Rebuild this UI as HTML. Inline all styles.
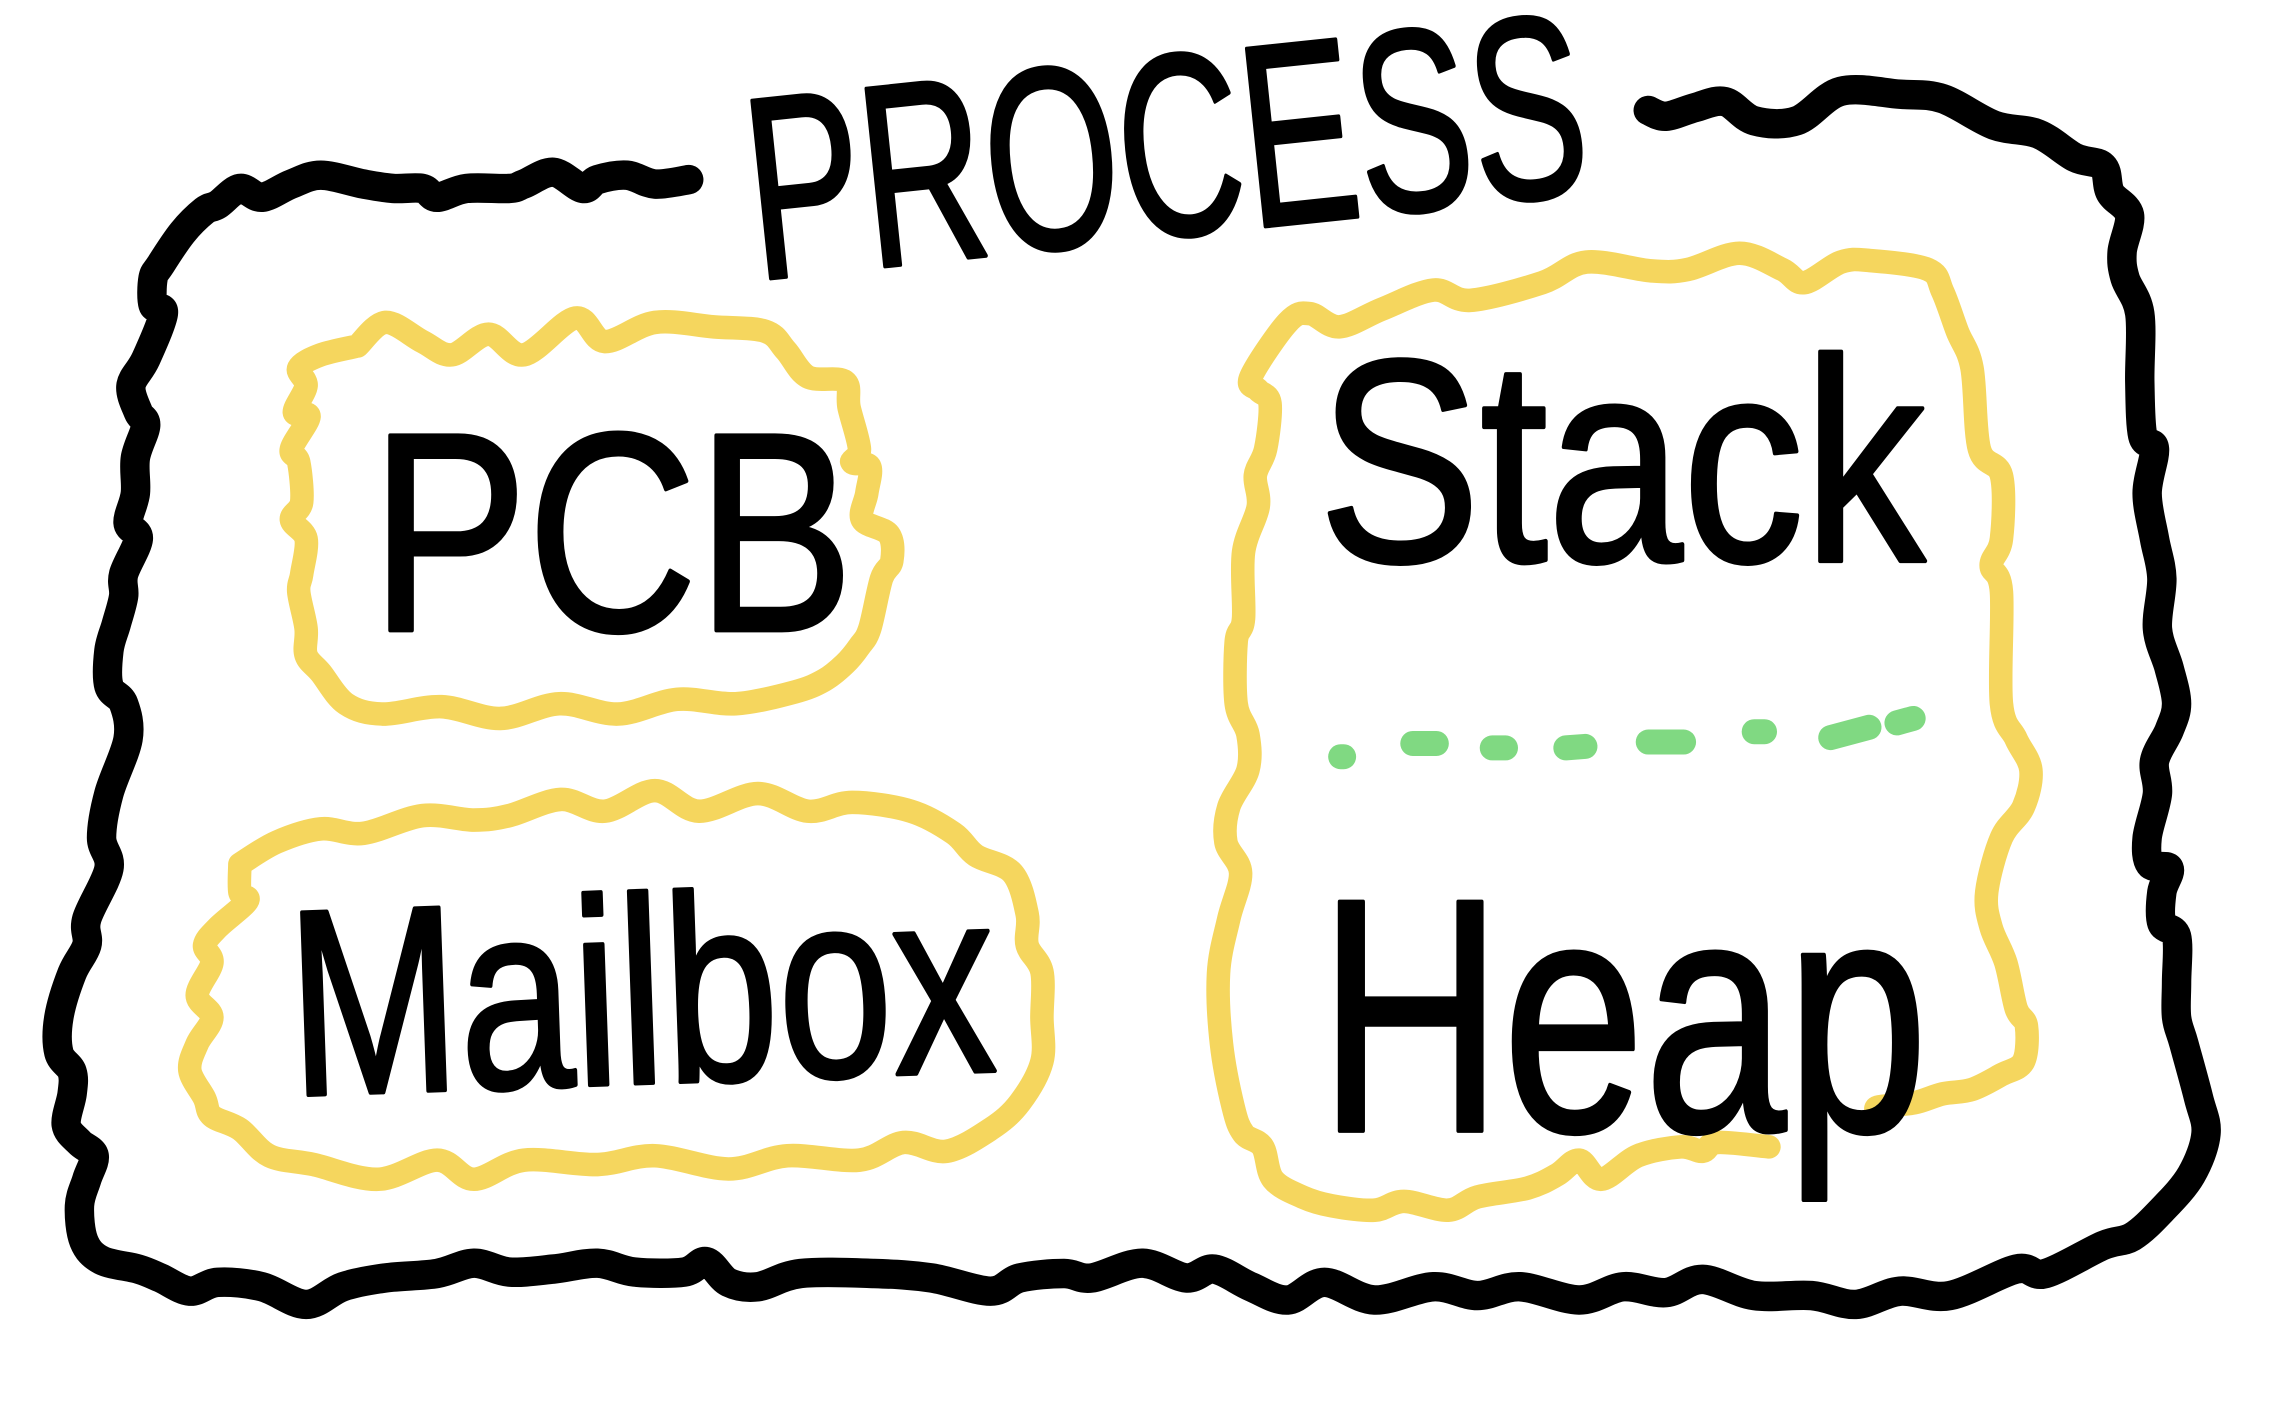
<!DOCTYPE html>
<html>
<head>
<meta charset="utf-8">
<style>
  html, body { margin:0; padding:0; background:#ffffff; }
  body { width:2284px; height:1406px; overflow:hidden; }
  svg { display:block; }
  text { font-family: "Liberation Sans", "DejaVu Sans", sans-serif; fill:#000; stroke:#000; stroke-width:3; stroke-linejoin:round; stroke-linecap:round; }
</style>
</head>
<body>
<svg id="d" width="2284" height="1406" viewBox="0 0 1552 955" preserveAspectRatio="none" xmlns="http://www.w3.org/2000/svg">
  <rect x="0" y="0" width="1552" height="955" fill="#ffffff"/>

  <!-- Outer black process border -->
  <polyline class="sm" fill="none" stroke="#000" stroke-width="20" stroke-linecap="round" stroke-linejoin="round"
    points="468,122 445,125 426,119 406,122 396,128 376,117 356,125 346,128 317,128 297,134 287,128 267,128 247,125 218,119 198,125 178,134 163,128 148,139 139,143 124,158 109,180 104,189 104,207 111,213 99,244 89,262 94,280 99,289 92,311 92,335 87,355 94,366 84,390 84,405 79,424 74,442 74,466 84,478 87,502 74,539 69,569 74,590 59,624 59,642 49,661 40,691 40,715 49,728 49,743 45,764 54,776 64,785 59,801 54,819 57,843 69,856 94,862 109,868 129,877 148,871 178,874 208,886 233,874 262,868 297,865 322,858 346,864 376,862 406,858 431,864 465,864 480,857 495,871 515,874 544,865 594,865 633,868 673,877 693,868 723,865 742,868 776,858 806,868 825,862 850,874 875,883 900,871 934,883 974,874 1004,880 1033,874 1073,883 1103,874 1132,878 1157,869 1192,880 1231,880 1261,886 1291,877 1325,880 1370,862 1390,865 1429,846 1449,840 1469,822 1489,798 1499,770 1494,746 1484,709 1479,691 1479,667 1479,636 1469,627 1469,606 1474,590 1461,587 1459,569 1466,539 1464,517 1474,496 1479,478 1474,454 1466,427 1469,393 1464,366 1459,335 1464,305 1456,296 1454,259 1454,213 1444,189 1442,171 1447,146 1434,131 1429,113 1410,107 1385,91 1355,85 1320,67 1291,64 1251,62 1221,82 1192,82 1172,69 1152,73 1132,79 1120,75"/>

  <!-- PCB yellow blob -->
  <polyline class="sm" fill="none" stroke="#F5D65E" stroke-width="16" stroke-linecap="round" stroke-linejoin="round"
    points="243,235 262,219 287,232 307,241 332,227 356,241 391,216 411,232 445,219 485,222 520,225 534,238 549,256 574,259 577,277 584,305 579,314 591,317 589,335 586,353 604,363 606,381 599,393 591,427 584,439 574,451 560,462 540,470 500,478 460,475 420,485 380,478 340,488 300,480 260,485 235,478 218,457 208,445 208,427 203,402 205,390 208,366 198,353 205,341 203,314 198,305 210,283 200,280 208,262 203,250 218,241 243,235"/>

  <!-- Mailbox yellow blob -->
  <polyline class="sm" fill="none" stroke="#F5D65E" stroke-width="16" stroke-linecap="round" stroke-linejoin="round"
    points="163,587 188,572 218,563 247,566 287,554 322,557 346,554 381,543 411,551 445,537 475,551 515,539 549,551 579,545 619,551 648,566 663,581 688,593 698,621 698,642 708,660 708,691 708,721 693,749 673,767 643,782 614,776 584,788 535,785 495,794 445,785 406,791 356,788 322,801 297,788 257,801 213,791 183,785 163,767 144,758 139,746 129,727 134,709 144,691 134,676 144,654 139,642 148,630 168,612 163,606 163,587"/>

  <!-- Stack/Heap yellow blob -->
  <polyline class="sm" fill="none" stroke="#F5D65E" stroke-width="16" stroke-linecap="round" stroke-linejoin="round"
    points="1202,779 1167,776 1157,782 1142,779 1113,785 1088,801 1073,788 1058,798 1038,807 1004,813 984,822 954,816 934,822 905,819 885,813 865,801 858,779 845,770 838,752 830,709 828,661 835,624 843,593 833,572 835,548 848,523 848,499 840,478 840,436 845,420 845,375 855,344 853,323 860,305 863,274 855,265 850,256 875,219 890,213 910,222 939,210 974,197 999,204 1048,192 1078,178 1122,184 1147,183 1182,172 1211,183 1226,192 1251,178 1271,177 1310,183 1320,198 1330,225 1340,250 1345,305 1360,323 1360,366 1353,384 1360,402 1360,478 1370,502 1380,523 1375,548 1360,569 1350,606 1353,630 1363,654 1370,685 1377,697 1375,721 1360,730 1340,740 1320,743 1301,749 1276,752 1278,756"/>

  <!-- Green dashed separator -->
  <g stroke="#80D982" stroke-width="17" stroke-linecap="round" fill="none">
    <line x1="911" y1="514" x2="913" y2="514"/>
    <line x1="960" y1="505" x2="976" y2="505"/>
    <line x1="1014" y1="508" x2="1023" y2="508"/>
    <line x1="1064" y1="508" x2="1077" y2="507"/>
    <line x1="1120" y1="504" x2="1144" y2="504"/>
    <line x1="1192" y1="497" x2="1199" y2="497"/>
    <line x1="1244" y1="501" x2="1270" y2="494"/>
    <line x1="1289" y1="491" x2="1300" y2="488"/>
  </g>

  <!-- Labels -->
  <text x="514" y="190" font-size="176" textLength="572" lengthAdjust="spacingAndGlyphs" transform="rotate(-6 514 190)">PROCESS</text>
  <text x="252" y="428" font-size="192" textLength="328" lengthAdjust="spacingAndGlyphs">PCB</text>
  <text x="198" y="744" font-size="180" textLength="480" lengthAdjust="spacingAndGlyphs" transform="rotate(-2 198 744)">Mailbox</text>
  <text x="896" y="381" font-size="196" textLength="412" lengthAdjust="spacingAndGlyphs">Stack</text>
  <text x="896" y="768" font-size="226" textLength="414" lengthAdjust="spacingAndGlyphs">Heap</text>
</svg>
<script>
(function(){
  try {
    var NS = "http://www.w3.org/2000/svg";
    var pls = document.querySelectorAll("polyline.sm");
    for (var k = 0; k < pls.length; k++) {
      var pl = pls[k];
      var raw = pl.getAttribute("points").trim().split(/\s+/);
      var p = raw.map(function(s){ var a = s.split(","); return [parseFloat(a[0]), parseFloat(a[1])]; });
      if (p.length < 3) continue;
      var d = "M" + p[0][0] + "," + p[0][1];
      for (var i = 0; i < p.length - 1; i++) {
        var p0 = p[i - 1] || p[i], p1 = p[i], p2 = p[i + 1], p3 = p[i + 2] || p2;
        var c1x = p1[0] + (p2[0] - p0[0]) / 6, c1y = p1[1] + (p2[1] - p0[1]) / 6;
        var c2x = p2[0] - (p3[0] - p1[0]) / 6, c2y = p2[1] - (p3[1] - p1[1]) / 6;
        d += " C" + c1x.toFixed(1) + "," + c1y.toFixed(1) + " " + c2x.toFixed(1) + "," + c2y.toFixed(1) + " " + p2[0] + "," + p2[1];
      }
      var path = document.createElementNS(NS, "path");
      path.setAttribute("d", d);
      var sw = pl.getAttribute("stroke-width");
      path.setAttribute("fill", "none");
      path.setAttribute("stroke", pl.getAttribute("stroke"));
      path.setAttribute("stroke-width", sw);
      path.setAttribute("stroke-linecap", "round");
      path.setAttribute("stroke-linejoin", "round");
      path.style.fill = "none";
      path.style.stroke = pl.getAttribute("stroke");
      path.style.strokeWidth = sw;
      path.style.strokeLinecap = "round";
      path.style.strokeLinejoin = "round";
      pl.parentNode.replaceChild(path, pl);
    }
  } catch (e) {}
})();
</script>
</body>
</html>
